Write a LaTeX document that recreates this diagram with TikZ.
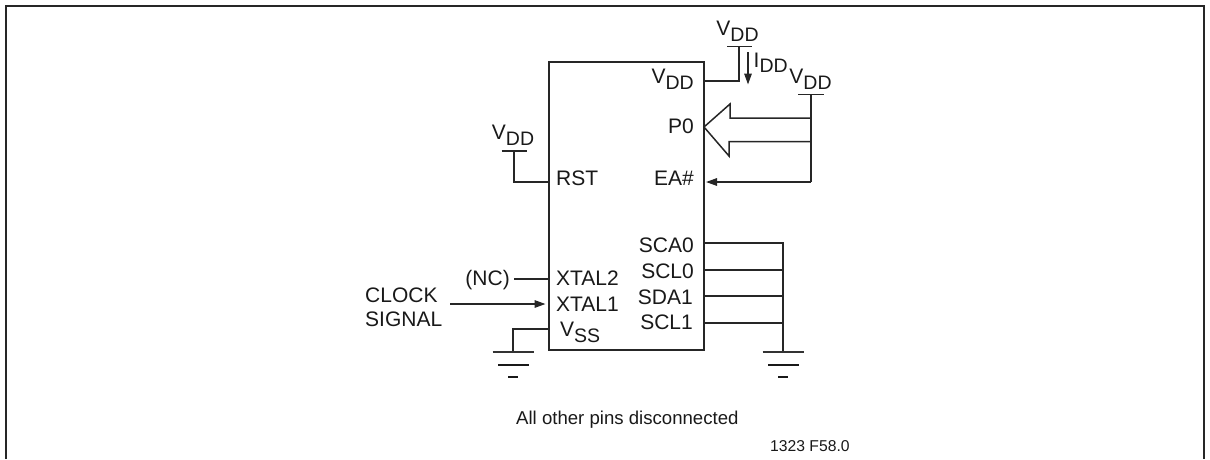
\documentclass[tikz,border=0pt]{standalone}
\usepackage{fontspec}
\setmainfont{Liberation Sans}
\usetikzlibrary{arrows.meta}
\tikzset{
  wire/.style={line width=1.5pt,draw=black!85},
  gndtop/.style={line width=1.3pt,draw=black!80},
  gndmid/.style={line width=1.7pt,draw=black!90},
  sig/.style={wire,-{Triangle[length=11pt,width=7.5pt]}},
  lbl/.style={inner sep=0pt,font=\fontsize{21}{24}\selectfont,text=black!90},
}
\newcommand{\SubT}[1]{\raisebox{-6pt}{\fontsize{19.5}{22}\selectfont #1}}
\newcommand{\VDD}{V\SubT{DD}}
\newcommand{\VSS}{V\SubT{SS}}
\begin{document}
\begin{tikzpicture}[x=1pt,y=-1pt]
\useasboundingbox (0,0) rectangle (1210,459);
% frame
\coordinate (fa) at (6,459);
\coordinate (fb) at (6,5.5);
\coordinate (fc) at (1204,5.5);
\coordinate (fd) at (1204,459);
\draw[wire,line width=2pt] (fa) -- (fb) -- (fc) -- (fd);
% chip
\node[draw=black!85,line width=1.5pt,minimum width=155pt,minimum height=288pt,inner sep=0pt,anchor=north west] (chip) at (548,61) {};
% chip labels
\node[lbl,anchor=base east] (lvdd) at (694,83) {\VDD};
\node[lbl,anchor=base east] (lp0) at (694,133.5) {P0};
\node[lbl,anchor=base east] (lea) at (694,185) {EA\#};
\node[lbl,anchor=base east] (lsca0) at (694,252.5) {SCA0};
\node[lbl,anchor=base east] (lscl0) at (694,278) {SCL0};
\node[lbl,anchor=base east] (lsda1) at (693,304) {SDA1};
\node[lbl,anchor=base east] (lscl1) at (693,329) {SCL1};
\node[lbl,anchor=base west] (lrst) at (556,185) {RST};
\node[lbl,anchor=base west] (lx2) at (556,285) {XTAL2};
\node[lbl,anchor=base west] (lx1) at (556,311) {XTAL1};
\node[lbl,anchor=base west] (lvss) at (560,336) {\VSS};
% pin coordinates
\coordinate (pvdd) at (chip.north east |- 0,81);
\coordinate (pea) at (chip.north east |- 0,182);
\coordinate (prst) at (chip.north west |- 0,182);
\coordinate (px2) at (chip.north west |- 0,279);
\coordinate (px1) at (chip.north west |- 0,304);
\coordinate (pvss) at (chip.north west |- 0,329);
\coordinate (ps1) at (chip.north east |- 0,243);
\coordinate (ps2) at (chip.north east |- 0,270);
\coordinate (ps3) at (chip.north east |- 0,296);
\coordinate (ps4) at (chip.north east |- 0,323);
% VDD top
\coordinate (v1) at (739,46.5);
\coordinate (v1l) at (727,46.5);
\coordinate (v1r) at (752,46.5);
\node[lbl,anchor=base] (tv1) at (737.5,35) {\VDD};
\draw[wire] (v1l) -- (v1r);
\draw[wire] (pvdd) -| (v1);
\coordinate (ia) at (748,52);
\coordinate (ib) at (748,84.5);
\draw[sig] (ia) -- (ib);
\node[lbl,anchor=base west] (idd) at (753.5,67) {I\raisebox{-5pt}{\fontsize{19.5}{22}\selectfont DD}};
% VDD right
\coordinate (v2) at (811,94.5);
\coordinate (v2l) at (798,94.5);
\coordinate (v2r) at (823.5,94.5);
\coordinate (v2b) at (811,182);
\node[lbl,anchor=base] (tv2) at (810.5,83) {\VDD};
\draw[wire] (v2l) -- (v2r);
\draw[wire] (v2) -- (v2b);
\draw[sig,shorten >=1.5pt] (v2b) -- (pea);
% bus arrow
\coordinate (bu) at (811,118);
\coordinate (bl) at (811,141.5);
\draw[wire,line join=miter] (bu) -- (730,118) -- (730,104) -- (704,127) -- (729,156) -- (729,141.5) -- (bl);
% RST VDD
\coordinate (v3) at (514,151);
\coordinate (v3l) at (501.5,151);
\coordinate (v3r) at (527,151);
\node[lbl,anchor=base] (tv3) at (513,139.5) {\VDD};
\draw[wire] (v3l) -- (v3r);
\draw[wire] (v3) |- (prst);
% left pins
\node[lbl,anchor=base east] (nc) at (510,285) {(NC)};
\coordinate (ncw) at (514,279);
\draw[wire] (ncw) -- (px2);
\node[lbl,anchor=base west] (clk1) at (365,302) {CLOCK};
\node[lbl,anchor=base west] (clk2) at (365,326) {SIGNAL};
\coordinate (cs) at (450,304);
\draw[sig,shorten >=2.5pt] (cs) -- (px1);
% ground left
\coordinate (g1) at (513,352);
\draw[wire] (pvss) -| (g1);
\draw[gndtop] (492.5,352) -- (534,352);
\draw[gndmid] (498,365) -- (529,365);
\draw[gndmid] (508,377) -- (518,377);
% right bus to ground
\coordinate (g2) at (783,352);
\draw[wire] (ps1) -| (g2);
\draw[wire] (ps2) -- (783,270);
\draw[wire] (ps3) -- (783,296);
\draw[wire] (ps4) -- (783,323);
\draw[gndtop] (762.5,352) -- (804,352);
\draw[gndmid] (768,365) -- (799,365);
\draw[gndmid] (778,377) -- (788,377);
% captions
\node[lbl,font=\fontsize{18.6}{22}\selectfont,anchor=base west] (cap) at (516,424) {All other pins disconnected};
\node[lbl,font=\fontsize{15.7}{18}\selectfont,anchor=base west] (ref) at (770,451) {1323 F58.0};
\end{tikzpicture}
\end{document}
